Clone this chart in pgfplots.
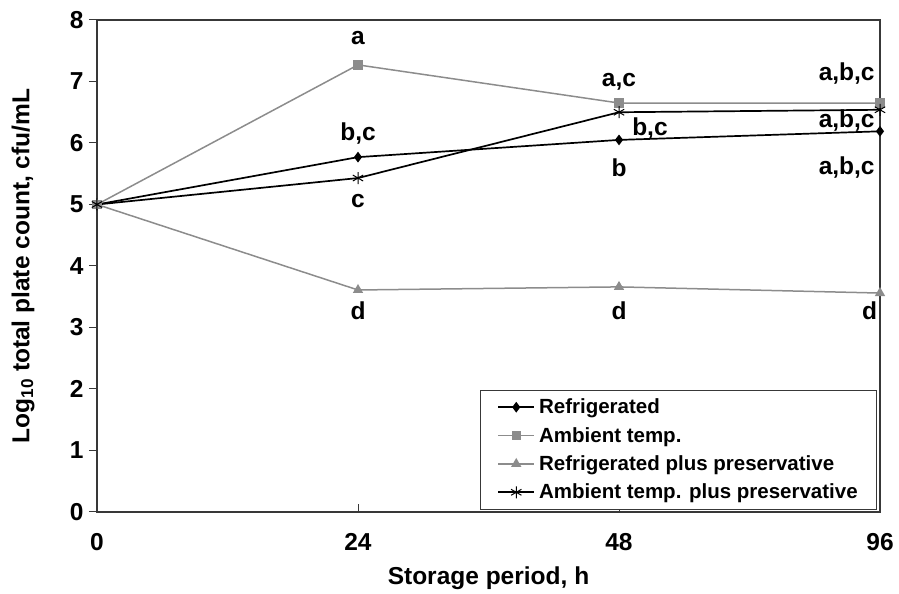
\documentclass[border=0pt]{standalone}
\usepackage{fontspec}
\setmainfont{Liberation Sans}
\usepackage{pgfplots}
\pgfplotsset{compat=1.18}
\definecolor{gr}{HTML}{8C8C8C}
\definecolor{ax}{HTML}{383838}
\newcommand{\fs}{\fontsize{24.5}{28}\selectfont\bfseries}
\begin{document}
\begin{tikzpicture}
\begin{axis}[
  name=ax,
  scale only axis, width=783pt, height=492pt,
  xmin=0, xmax=3, ymin=0, ymax=8,
  xtick={0,1,2,3}, xticklabels={0,24,48,96},
  ytick={0,1,...,8}, yticklabels={0,1,2,3,4,5,6,7,8},
  xtick pos=bottom, ytick pos=left,
  tick style={ax, line width=1pt}, major tick length=8pt,
  ytick align=outside, xtick align=inside,
  axis line style={ax, line width=1.3pt},
  ticklabel style={font=\fs},
  xticklabel style={anchor=north, yshift=-18pt},
  yticklabel style={anchor=east, xshift=-2pt},
  xlabel={Storage period, h}, ylabel={Log\textsubscript{10} total plate count, cfu/mL},
  label style={font=\fs},
  xlabel style={at={([yshift=-66pt]axis description cs:0.5,0)}, anchor=center},
  ylabel style={at={([xshift=-74pt]axis description cs:0,0.5)}, anchor=center, rotate=0},
  legend style={font=\fontsize{20.5}{24}\selectfont\bfseries, at={(rel axis cs:0.9965,0.004)}, anchor=south east,
    draw=ax, line width=1.1pt, row sep=8pt, inner xsep=17pt, inner ysep=7pt,
    legend cell align=left, /tikz/every odd column/.append style={column sep=2pt}},
  legend image code/.code={\draw[mark repeat=2,mark phase=2] plot coordinates {(0pt,0pt) (18pt,0pt) (36pt,0pt)};},
  clip=false,
]
\addplot[black, line width=1.7pt, mark=diamond*, mark size=4pt, mark options={solid}] coordinates {(0,5) (1,5.77) (2,6.05) (3,6.19)};
\addlegendentry{Refrigerated}
\addplot[gr, line width=1.5pt, mark=square*, mark size=4pt] coordinates {(0,5) (1,7.27) (2,6.65) (3,6.65)};
\addlegendentry{Ambient temp.}
\addplot[gr, line width=1.5pt, mark=triangle*, mark size=4.5pt] coordinates {(0,5) (1,3.61) (2,3.66) (3,3.56)};
\addlegendentry{Refrigerated plus preservative}
\addplot[black, line width=1.7pt, mark=asterisk, mark size=6pt, mark options={line width=1pt}] coordinates {(0,5) (1,5.43) (2,6.5) (3,6.54)};
\addlegendentry{Ambient temp. plus preservative\hspace{30pt}}
\begin{scope}[every node/.style={font=\fs, inner sep=0pt}]
\node at (axis cs:1,7.7) {a};
\node at (axis cs:2,6.99) {a,c};
\node[anchor=east] at (axis cs:2.98,7.13) {a,b,c};
\node at (axis cs:1,6.16) {b,c};
\node[anchor=west] at (axis cs:2.05,6.23) {b,c};
\node[anchor=east] at (axis cs:2.98,6.36) {a,b,c};
\node at (axis cs:2,5.6) {b};
\node[anchor=east] at (axis cs:2.98,5.6) {a,b,c};
\node at (axis cs:1,5.05) {c};
\node at (axis cs:1,3.28) {d};
\node at (axis cs:2,3.28) {d};
\node[anchor=east] at (axis cs:2.99,3.28) {d};
\end{scope}
\end{axis}
\pgfresetboundingbox
\path ([shift={(-97pt,-82pt)}]ax.south west) rectangle ([shift={(19pt,20pt)}]ax.north east);
\end{tikzpicture}
\end{document}
